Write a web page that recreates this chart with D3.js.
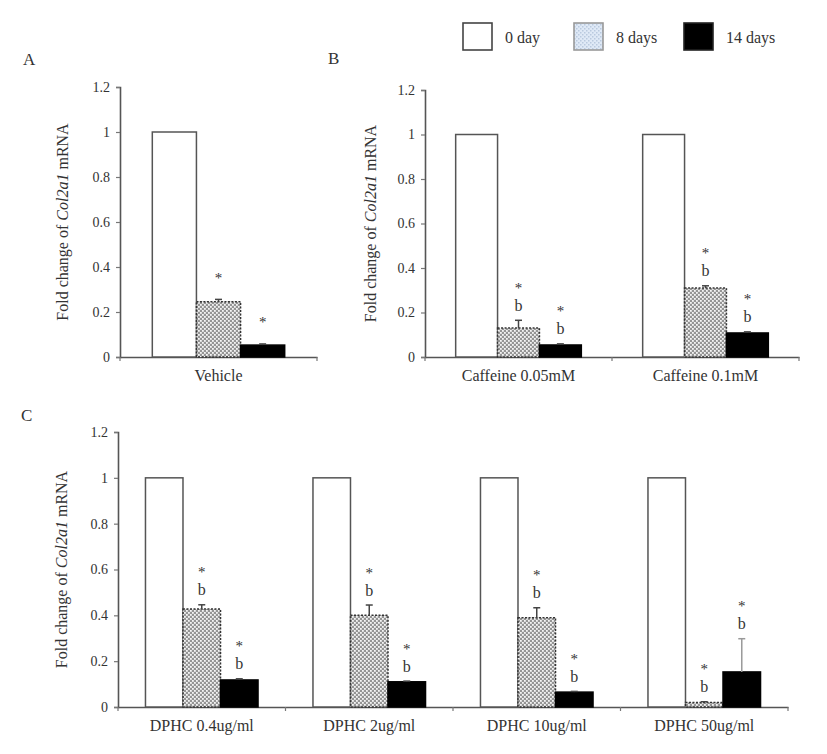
<!DOCTYPE html>
<html><head><meta charset="utf-8">
<script src="https://cdn.jsdelivr.net/npm/d3@7"></script>
<style>body{margin:0;background:#fff}svg{display:block}text{font-family:"Liberation Serif","Times New Roman",serif;fill:#333}</style>
</head><body><svg id="c" width="827" height="754"></svg>
<script>
// ---- data ----
const seriesNames = ["0 day", "8 days", "14 days"];
const yTicks = [0, 0.2, 0.4, 0.6, 0.8, 1, 1.2];

const catsA = ["Vehicle"];
const day0A = [1];
const day8A = [0.246];
const day14A = [0.053];
const err8A = [0.01];
const err14A = [0.005];
const sig8A = ["*"];
const sig14A = ["*"];

const catsB = ["Caffeine 0.05mM", "Caffeine 0.1mM"];
const day0B = [1, 1];
const day8B = [0.13, 0.31];
const day14B = [0.054, 0.108];
const err8B = [0.035, 0.01];
const err14B = [0.005, 0.005];
const sig8B = ["*b", "*b"];
const sig14B = ["*b", "*b"];

const catsC = ["DPHC 0.4ug/ml", "DPHC 2ug/ml", "DPHC 10ug/ml", "DPHC 50ug/ml"];
const day0C = [1, 1, 1, 1];
const day8C = [0.428, 0.40, 0.39, 0.02];
const day14C = [0.118, 0.11, 0.065, 0.153];
const err8C = [0.018, 0.045, 0.043, 0.003];
const err14C = [0.005, 0.003, 0.003, 0.145];
const sig8C = ["*b", "*b", "*b", "*b"];
const sig14C = ["*b", "*b", "*b", "*b"];

// ---- drawing ----
const svg = d3.select("#c");
const defs = svg.append("defs");
const pat = defs.append("pattern").attr("id","hatch").attr("patternUnits","userSpaceOnUse").attr("width",4).attr("height",4);
pat.append("rect").attr("width",4).attr("height",4).attr("fill","#959595");
pat.append("rect").attr("x",0).attr("y",0).attr("width",1.8).attr("height",1.8).attr("fill","#f4f4f4");
pat.append("rect").attr("x",2).attr("y",2).attr("width",1.8).attr("height",1.8).attr("fill","#f4f4f4");
const pat2 = defs.append("pattern").attr("id","hatchL").attr("patternUnits","userSpaceOnUse").attr("width",4).attr("height",4);
pat2.append("rect").attr("width",4).attr("height",4).attr("fill","#dfe9f6");
pat2.append("rect").attr("x",0).attr("y",0).attr("width",1.5).attr("height",1.5).attr("fill","#b9c9de");
pat2.append("rect").attr("x",2).attr("y",2).attr("width",1.5).attr("height",1.5).attr("fill","#b9c9de");

function panel(cfg) {
  const {cats, d0, d8, d14, e8, e14, s8, s14, x0, x1, yBase, yTop, letter, lx, ly, ylabX} = cfg;
  const g = svg.append("g");
  const y = d3.scaleLinear().domain([0, 1.2]).range([yBase, yTop]);
  const x = d3.scaleBand().domain(cats).range([x0, x1]).padding(0);
  const w = x.bandwidth() * 0.224;
  const cx = c => x(c) + x.bandwidth() / 2;

  // y axis
  const ya = g.append("g").attr("transform", `translate(${x0},0)`)
    .call(d3.axisLeft(y).tickValues(yTicks).tickSize(4).tickPadding(6).tickFormat(d3.format("")));
  ya.select(".domain").attr("stroke", "#555").attr("stroke-width", 1.6);
  ya.selectAll(".tick line").attr("stroke", "#777").attr("stroke-width", 1.2);
  ya.selectAll("text").attr("font-size", 14).attr("fill", "#555");

  // x axis
  const xa = g.append("g").attr("transform", `translate(0,${yBase})`)
    .call(d3.axisBottom(x).tickSize(0).tickPadding(13));
  xa.select(".domain").attr("stroke", "#555").attr("stroke-width", 1.6);
  xa.selectAll("text").attr("font-size", 16).attr("fill", "#444");
  const bounds = cats.map(c => x(c)).concat([x1]);
  g.selectAll(".xt").data(bounds).join("line").attr("x1", d => d).attr("x2", d => d)
    .attr("y1", yBase).attr("y2", yBase + 4).attr("stroke", "#777").attr("stroke-width", 1.2);

  const series = [
    {vals: d0, err: null, sig: null, fill: "#fff", stroke: "#555", dash: null},
    {vals: d8, err: e8, sig: s8, fill: "url(#hatch)", stroke: "#333", dash: "2,1.5"},
    {vals: d14, err: e14, sig: s14, fill: "#000", stroke: "#000", dash: null}
  ];
  series.forEach((s, si) => {
    cats.forEach((c, i) => {
      const bx = cx(c) + (si - 1.5) * w;
      const v = s.vals[i];
      g.append("rect").attr("x", bx).attr("y", y(v)).attr("width", w).attr("height", yBase - y(v))
        .attr("fill", s.fill).attr("stroke", s.stroke).attr("stroke-width", 1.5)
        .attr("stroke-dasharray", s.dash);
      if (s.err) {
        const mx = bx + w / 2, top = y(v + s.err[i]);
        const ec = s.err[i] > 0.1 ? "#999" : "#444";
        g.append("line").attr("x1", mx).attr("x2", mx).attr("y1", y(v)).attr("y2", top).attr("stroke", ec).attr("stroke-width", 1.5);
        g.append("line").attr("x1", mx - 3.5).attr("x2", mx + 3.5).attr("y1", top).attr("y2", top).attr("stroke", ec).attr("stroke-width", 1.5);
        const sig = s.sig[i];
        if (sig.includes("b")) {
          g.append("text").attr("x", mx).attr("y", top - 15).attr("dy", "0.35em").attr("text-anchor", "middle")
            .attr("font-size", 16).attr("fill", "#444").text("b");
          g.append("text").attr("x", mx).attr("y", top - 38).attr("dy", "0.7em").attr("text-anchor", "middle")
            .attr("font-size", 15).attr("fill", "#555").text("*");
        } else {
          g.append("text").attr("x", mx).attr("y", top - 27).attr("dy", "0.7em").attr("text-anchor", "middle")
            .attr("font-size", 15).attr("fill", "#555").text("*");
        }
      }
    });
  });

  // y label
  const yl = g.append("text").attr("transform", `translate(${ylabX},${(yBase + yTop) / 2}) rotate(-90)`)
    .attr("text-anchor", "middle").attr("dy", "0.35em").attr("font-size", 16).attr("fill", "#444");
  yl.append("tspan").text("Fold change of ");
  yl.append("tspan").attr("font-style", "italic").text("Col2a1");
  yl.append("tspan").text(" mRNA");

  svg.append("text").attr("x", lx).attr("y", ly).attr("font-size", 17).attr("fill", "#333").text(letter);
}

panel({cats: catsA, d0: day0A, d8: day8A, d14: day14A, e8: err8A, e14: err14A, s8: sig8A, s14: sig14A,
  x0: 120, x1: 317, yBase: 357, yTop: 87, letter: "A", lx: 23, ly: 65, ylabX: 62});
panel({cats: catsB, d0: day0B, d8: day8B, d14: day14B, e8: err8B, e14: err14B, s8: sig8B, s14: sig14B,
  x0: 425, x1: 799, yBase: 357, yTop: 90, letter: "B", lx: 328, ly: 64, ylabX: 370});
panel({cats: catsC, d0: day0C, d8: day8C, d14: day14C, e8: err8C, e14: err14C, s8: sig8C, s14: sig14C,
  x0: 118, x1: 788, yBase: 707, yTop: 432, letter: "C", lx: 21, ly: 421, ylabX: 61});

// legend
const legX = [463, 574, 684];
const legFill = ["#fff", "url(#hatchL)", "#000"];
const legStroke = ["#444", "#999", "#222"];
const lg = svg.append("g");
seriesNames.forEach((n, i) => {
  lg.append("rect").attr("x", legX[i]).attr("y", 23).attr("width", 29).attr("height", 27)
    .attr("fill", legFill[i]).attr("stroke", legStroke[i]).attr("stroke-width", 1.6);
  lg.append("text").attr("x", legX[i] + 42).attr("y", 37).attr("dy", "0.35em").attr("font-size", 16)
    .attr("fill", "#555").text(n);
});
</script></body></html>
